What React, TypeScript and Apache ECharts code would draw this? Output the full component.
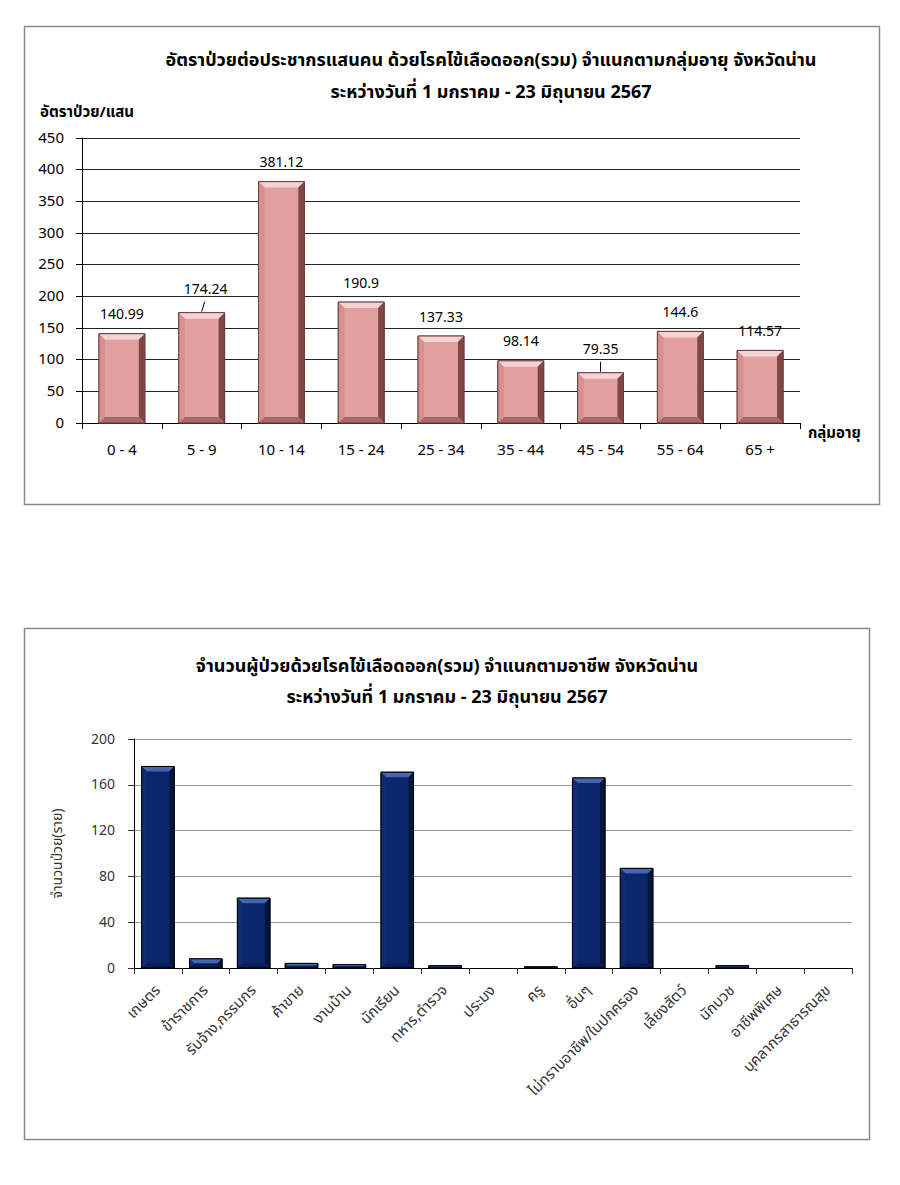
import React, { useEffect, useRef } from "react";
import * as echarts from "echarts";

// ---------- Data ----------
const title1Line1 = "อัตราป่วยต่อประชากรแสนคน ด้วยโรคไข้เลือดออก(รวม) จำแนกตามกลุ่มอายุ จังหวัดน่าน";
const title1Line2 = "ระหว่างวันที่ 1 มกราคม - 23 มิถุนายน 2567";
const ageGroups = ["0 - 4", "5 - 9", "10 - 14", "15 - 24", "25 - 34", "35 - 44", "45 - 54", "55 - 64", "65 +"];
const ageRates = [140.99, 174.24, 381.12, 190.9, 137.33, 98.14, 79.35, 144.6, 114.57];
const ageLeaderIdx = [1, 6];
const yName1 = "อัตราป่วย/แสน";
const xName1 = "กลุ่มอายุ";

const title2Line1 = "จำนวนผู้ป่วยด้วยโรคไข้เลือดออก(รวม) จำแนกตามอาชีพ จังหวัดน่าน";
const title2Line2 = "ระหว่างวันที่ 1 มกราคม - 23 มิถุนายน 2567";
const occupations = [
  "เกษตร", "ข้าราชการ", "รับจ้าง,กรรมกร", "ค้าขาย", "งานบ้าน", "นักเรียน", "ทหาร,ตำรวจ", "ประมง",
  "ครู", "อื่นๆ", "ไม่ทราบอาชีพ/ในปกครอง", "เลี้ยงสัตว์", "นักบวช", "อาชีพพิเศษ", "บุคลากรสาธารณสุข",
];
const occupationCounts = [176, 8, 61, 4, 3, 171, 2, 0, 1, 166, 87, 0, 2, 0, 0];
const yName2 = "จำนวนป่วย(ราย)";

// ---------- Styles ----------
const FONT = 'Tahoma, "Noto Sans Thai", "Noto Sans", "DejaVu Sans", sans-serif';

type BevelColors = { face: string; top: string; left: string; right: string; bottom: string; border: string };

const pink: BevelColors = {
  face: "#e29f9f",
  top: "#f6d2d2",
  left: "#d69090",
  right: "#7e4646",
  bottom: "#a86868",
  border: "#6e3c3c",
};
const navy: BevelColors = {
  face: "#0b266a",
  top: "#4565ad",
  left: "#0d2c74",
  right: "#05153c",
  bottom: "#081d55",
  border: "#000000",
};

function makeRenderItem(colors: BevelColors, widthRatio: number, bevel: number, withLabels: boolean, leaderIdx: number[]) {
  return (params: any, api: any) => {
    const i = api.value(0);
    const v = api.value(1);
    const top = api.coord([i, v]);
    const base = api.coord([i, 0]);
    const bw = api.size([1, 0])[0] * widthRatio;
    const cx = top[0];
    const x0 = cx - bw / 2;
    const x1 = cx + bw / 2;
    const y0 = top[1];
    const y1 = base[1];
    const h = y1 - y0;
    const children: any[] = [];
    if (h > 0.3) {
      const b = Math.min(bevel, h / 2, bw / 2);
      children.push(
        { type: "rect", shape: { x: x0, y: y0, width: bw, height: h }, style: { fill: colors.face, stroke: colors.border, lineWidth: 1 } },
        { type: "polygon", shape: { points: [[x0, y0], [x1, y0], [x1 - b, y0 + b], [x0 + b, y0 + b]] }, style: { fill: colors.top } },
        { type: "polygon", shape: { points: [[x1, y0], [x1, y1], [x1 - b, y1 - b], [x1 - b, y0 + b]] }, style: { fill: colors.right } },
        { type: "polygon", shape: { points: [[x0, y1], [x1, y1], [x1 - b, y1 - b], [x0 + b, y1 - b]] }, style: { fill: colors.bottom } },
        { type: "polygon", shape: { points: [[x0, y0], [x0 + b, y0 + b], [x0 + b, y1 - b], [x0, y1]] }, style: { fill: colors.left } },
        { type: "rect", shape: { x: x0, y: y0, width: bw, height: h }, style: { fill: "none", stroke: colors.border, lineWidth: 1 } }
      );
    }
    if (withLabels) {
      const hasLeader = leaderIdx.indexOf(params.dataIndex) >= 0;
      const dy = hasLeader ? 23 : 19;
      if (hasLeader) {
        children.push({
          type: "line",
          shape: { x1: cx + (params.dataIndex === 1 ? 3 : 0), y1: y0 - 11, x2: cx, y2: y0 - 1 },
          style: { stroke: "#000", lineWidth: 1 },
        });
      }
      children.push({
        type: "text",
        style: {
          text: String(ageRates[params.dataIndex]),
          x: cx + (params.dataIndex === 1 ? 4 : 0),
          y: y0 - dy,
          align: "center",
          verticalAlign: "middle",
          fontSize: 14,
          fontFamily: FONT,
          fill: "#000",
        },
      });
    }
    return { type: "group", children };
  };
}

const App: React.FC = () => {
  const ref = useRef<HTMLDivElement>(null);

  useEffect(() => {
    if (!ref.current) return;
    const chart = echarts.init(ref.current, undefined, { renderer: "svg" });

    const option: any = {
      animation: false,
      backgroundColor: "#ffffff",
      textStyle: { fontFamily: FONT },
      graphic: [
        { type: "rect", shape: { x: 24.5, y: 26.5, width: 855, height: 478 }, style: { fill: "none", stroke: "#8a8a8a", lineWidth: 1.5 }, z: 0 },
        { type: "rect", shape: { x: 24.5, y: 628.5, width: 845, height: 511 }, style: { fill: "none", stroke: "#8a8a8a", lineWidth: 1.5 }, z: 0 },
        { type: "text", x: 491, y: 60, style: { text: title1Line1, align: "center", verticalAlign: "middle", fontSize: 18, fontWeight: "bold", fontFamily: FONT, fill: "#000" } },
        { type: "text", x: 491, y: 92, style: { text: title1Line2, align: "center", verticalAlign: "middle", fontSize: 18, fontWeight: "bold", fontFamily: FONT, fill: "#000" } },
        { type: "text", x: 40, y: 112, style: { text: yName1, align: "left", verticalAlign: "middle", fontSize: 15, fontWeight: "bold", fontFamily: FONT, fill: "#000" } },
        { type: "text", x: 808, y: 433, style: { text: xName1, align: "left", verticalAlign: "middle", fontSize: 15, fontWeight: "bold", fontFamily: FONT, fill: "#000" } },
        { type: "text", x: 447, y: 666, style: { text: title2Line1, align: "center", verticalAlign: "middle", fontSize: 18, fontWeight: "bold", fontFamily: FONT, fill: "#000" } },
        { type: "text", x: 447, y: 697, style: { text: title2Line2, align: "center", verticalAlign: "middle", fontSize: 18, fontWeight: "bold", fontFamily: FONT, fill: "#000" } },
      ],
      grid: [
        { left: 82, top: 138, width: 718, height: 285 },
        { left: 134, top: 739, width: 718, height: 229 },
      ],
      xAxis: [
        {
          type: "category",
          gridIndex: 0,
          data: ageGroups,
          axisLine: { lineStyle: { color: "#000", width: 1 } },
          axisTick: { show: true, length: 6, lineStyle: { color: "#000" } },
          axisLabel: { fontSize: 15, color: "#000", margin: 20, fontFamily: FONT, interval: 0 },
        },
        {
          type: "category",
          gridIndex: 1,
          data: occupations,
          axisLine: { lineStyle: { color: "#000", width: 1 } },
          axisTick: { show: true, length: 6, lineStyle: { color: "#333" } },
          axisLabel: { fontSize: 15, color: "#333", margin: 20, rotate: 45, interval: 0, fontFamily: FONT },
        },
      ],
      yAxis: [
        {
          type: "value",
          gridIndex: 0,
          min: 0,
          max: 450,
          interval: 50,
          axisLine: { show: true, lineStyle: { color: "#000" } },
          axisTick: { show: true, length: 6, lineStyle: { color: "#000" } },
          splitLine: { lineStyle: { color: "#222", width: 1 } },
          axisLabel: { fontSize: 15, color: "#000", margin: 18, fontFamily: FONT },
        },
        {
          type: "value",
          gridIndex: 1,
          min: 0,
          max: 200,
          interval: 40,
          name: yName2,
          nameLocation: "middle",
          nameRotate: 90,
          nameGap: 70,
          nameTextStyle: { fontSize: 14, color: "#333", fontFamily: FONT },
          axisLine: { show: true, lineStyle: { color: "#000" } },
          axisTick: { show: true, length: 6, lineStyle: { color: "#333" } },
          splitLine: { lineStyle: { color: "#999", width: 1 } },
          axisLabel: { fontSize: 14, color: "#333", margin: 19, fontFamily: FONT },
        },
      ],
      series: [
        {
          type: "custom",
          xAxisIndex: 0,
          yAxisIndex: 0,
          data: ageRates.map((v, i) => [i, v]),
          encode: { x: 0, y: 1 },
          renderItem: makeRenderItem(pink, 0.575, 6, true, ageLeaderIdx),
        },
        {
          type: "custom",
          xAxisIndex: 1,
          yAxisIndex: 1,
          data: occupationCounts.map((v, i) => [i, v]),
          encode: { x: 0, y: 1 },
          renderItem: makeRenderItem(navy, 0.68, 5, false, []),
        },
      ],
    };

    chart.setOption(option);
    return () => chart.dispose();
  }, []);

  return <div ref={ref} style={{ position: "absolute", left: 0, top: 0, width: 900, height: 1185 }} />;
};

export default App;
